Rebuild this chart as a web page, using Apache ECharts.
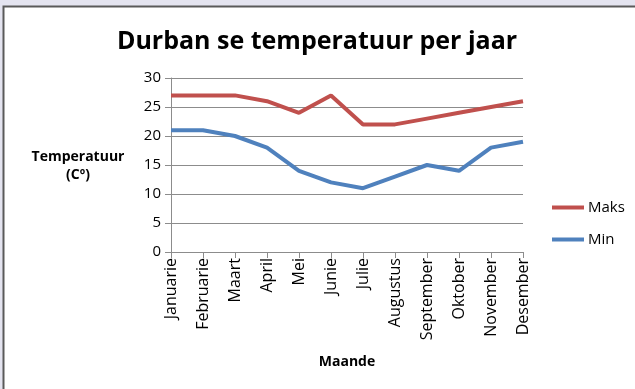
<!DOCTYPE html>
<html>
<head>
<meta charset="utf-8">
<script src="https://cdn.jsdelivr.net/npm/echarts@6/dist/echarts.min.js"></script>
<style>
  html, body { margin: 0; padding: 0; background: #e4e4f0; }
  #chart { width: 635px; height: 389px; }
</style>
</head>
<body>
<div id="chart"></div>
<script>
// Monthly temperatures for Durban (°C)
const months = ['Januarie', 'Februarie', 'Maart', 'April', 'Mei', 'Junie',
                'Julie', 'Augustus', 'September', 'Oktober', 'November', 'Desember'];
const maks = [27, 27, 27, 26, 24, 27, 22, 22, 23, 24, 25, 26];
const min = [21, 21, 20, 18, 14, 12, 11, 13, 15, 14, 18, 19];
const yTicks = [0, 5, 10, 15, 20, 25, 30];

const font = '"Open Sans", sans-serif';
const chart = echarts.init(document.getElementById('chart'), null, { renderer: 'canvas' });

chart.setOption({
  backgroundColor: '#e4e4f0',
  animation: false,
  graphic: [
    {
      type: 'rect', z: -10, silent: true,
      shape: { x: 3.5, y: 6.5, width: 700, height: 500 },
      style: { fill: '#ffffff', stroke: '#5a5a5a', lineWidth: 2 }
    },
    {
      type: 'text', x: 317, y: 42,
      style: {
        text: 'Durban se temperatuur per jaar', font: 'bold 25px ' + font, fill: '#000',
        textAlign: 'center', textVerticalAlign: 'middle'
      }
    },
    {
      type: 'text', x: 78, y: 166,
      style: {
        text: 'Temperatuur\n(Cº)', font: 'bold 14px ' + font, fill: '#000',
        textAlign: 'center', textVerticalAlign: 'middle', lineHeight: 18
      }
    }
  ],
  grid: { left: 171, right: 112, top: 78, bottom: 137 },
  legend: {
    orient: 'vertical', left: 552, top: 200, itemGap: 17, padding: 0,
    itemWidth: 32, itemHeight: 4,
    icon: 'rect',
    textStyle: { fontFamily: font, fontSize: 15, color: '#000', padding: [0, 0, 0, -1] },
    data: ['Maks', 'Min']
  },
  xAxis: {
    type: 'category', data: months, boundaryGap: false,
    name: 'Maande', nameLocation: 'middle', nameGap: 103,
    nameTextStyle: { fontFamily: font, fontWeight: 'bold', fontSize: 14, color: '#000' },
    axisLine: { lineStyle: { color: '#8c8c8c', width: 1 } },
    axisTick: { show: true, alignWithLabel: true, length: 6, lineStyle: { color: '#8c8c8c' } },
    axisLabel: { rotate: 90, interval: 0, fontFamily: font, fontSize: 16, color: '#000', margin: 6 }
  },
  yAxis: {
    type: 'value', min: yTicks[0], max: yTicks[yTicks.length - 1], interval: 5,
    axisLine: { show: true, lineStyle: { color: '#8c8c8c', width: 1 } },
    axisTick: { show: true, length: 6, inside: false, lineStyle: { color: '#8c8c8c' } },
    axisLabel: { fontFamily: font, fontSize: 15, color: '#000', margin: 10 },
    splitLine: { lineStyle: { color: '#8c8c8c', width: 1 } }
  },
  series: [
    {
      name: 'Maks', type: 'line', data: maks, symbol: 'none',
      color: '#c0504d', lineStyle: { width: 4, color: '#c0504d' }
    },
    {
      name: 'Min', type: 'line', data: min, symbol: 'none',
      color: '#4f81bd', lineStyle: { width: 4, color: '#4f81bd' }
    }
  ]
});
</script>
</body>
</html>
